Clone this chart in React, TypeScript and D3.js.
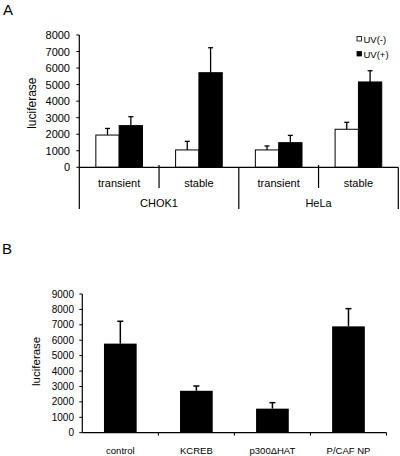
import React from "react";
import * as d3 from "d3";

// Panel A data
const groupsA = ["CHOK1", "HeLa"];
const typesA = ["transient", "stable"];
const seriesA = ["UV(-)", "UV(+)"];
const valuesUVminus = [1950, 1050, 1050, 2300];
const errorsUVminus = [400, 520, 240, 420];
const valuesUVplus = [2520, 5720, 1490, 5160];
const errorsUVplus = [540, 1510, 440, 680];
const ticksA = [0, 1000, 2000, 3000, 4000, 5000, 6000, 7000, 8000];

// Panel B data
const categoriesB = ["control", "KCREB", "p300ΔHAT", "P/CAF NP"];
const valuesB = [5780, 2720, 1560, 6900];
const errorsB = [1450, 310, 390, 1150];
const ticksB = [0, 1000, 2000, 3000, 4000, 5000, 6000, 7000, 8000, 9000];

const FONT = "'Liberation Sans', Arial, sans-serif";

function PanelA() {
  const left = 79.3, right = 398.3, y0 = 167.3, yTop = 35;
  const subcats = groupsA.flatMap((g) => typesA.map((t) => `${g}-${t}`));
  const x = d3.scaleBand().domain(subcats).range([left, right]).paddingInner(0.415).paddingOuter(0.2075);
  const xs = d3.scaleBand().domain(seriesA).range([0, x.bandwidth()]);
  const y = d3.scaleLinear().domain([0, 8000]).range([y0, yTop]);
  const step = x.step();
  const groupW = (right - left) / groupsA.length;
  const vals = [valuesUVminus, valuesUVplus];
  const errs = [errorsUVminus, errorsUVplus];
  return (
    <g>
      <text x={3} y={15} fontSize={15} fontFamily={FONT}>A</text>
      {/* y axis */}
      <line x1={left} x2={left} y1={yTop} y2={209} stroke="#000" strokeWidth={1.2} />
      {ticksA.map((t) => (
        <g key={t}>
          <line x1={left - 3} x2={left} y1={y(t)} y2={y(t)} stroke="#000" />
          <text x={70} y={y(t) + 4} fontSize={11} textAnchor="end" fontFamily={FONT}>{t}</text>
        </g>
      ))}
      <text transform={`translate(36,${(y0 + yTop) / 2 + 2}) rotate(-90)`} fontSize={12} textAnchor="middle" fontFamily={FONT}>luciferase</text>
      {/* bars */}
      {subcats.map((sc, i) =>
        seriesA.map((s, j) => {
          const bx = (x(sc) as number) + (xs(s) as number);
          const bw = xs.bandwidth();
          const v = vals[j][i];
          const e = errs[j][i];
          const cx = bx + bw / 2;
          return (
            <g key={sc + s}>
              <line x1={cx} x2={cx} y1={y(v)} y2={y(v + e)} stroke="#000" strokeWidth={1.3} />
              <line x1={cx - 2.5} x2={cx + 2.5} y1={y(v + e)} y2={y(v + e)} stroke="#000" strokeWidth={1.3} />
              <rect x={bx} y={y(v)} width={bw} height={y0 - y(v)} fill={j === 0 ? "#fff" : "#000"} stroke="#000" strokeWidth={1} />
            </g>
          );
        })
      )}
      {/* x axis */}
      <line x1={left} x2={right} y1={y0} y2={y0} stroke="#000" strokeWidth={1.2} />
      {subcats.map((sc, i) => {
        const cx = (x(sc) as number) + x.bandwidth() / 2;
        const boundary = left + step * (i + 1);
        const isGroupEnd = (i + 1) % typesA.length === 0;
        return (
          <g key={sc}>
            <text x={cx} y={186.5} fontSize={11} textAnchor="middle" fontFamily={FONT}>{typesA[i % typesA.length]}</text>
            <line x1={boundary} x2={boundary} y1={isGroupEnd ? y0 : 165} y2={isGroupEnd ? 209 : 188} stroke="#000" strokeWidth={1.2} />
          </g>
        );
      })}
      {groupsA.map((g, i) => (
        <text key={g} x={left + groupW * (i + 0.5)} y={207} fontSize={11} textAnchor="middle" fontFamily={FONT}>{g}</text>
      ))}
      {/* legend */}
      {seriesA.map((s, j) => (
        <g key={s}>
          <rect x={357} y={36.5 + j * 15} width={4.5} height={4.5} fill={j === 0 ? "#fff" : "#000"} stroke="#000" strokeWidth={0.8} />
          <text x={363.5} y={42.5 + j * 15} fontSize={9.5} fontFamily={FONT}>{s}</text>
        </g>
      ))}
    </g>
  );
}

function PanelB() {
  const left = 82.3, right = 386.5, y0 = 432.7, yTop = 294;
  const x = d3.scaleBand().domain(categoriesB).range([left, right]).paddingInner(0.57).paddingOuter(0.285);
  const y = d3.scaleLinear().domain([0, 9000]).range([y0, yTop]);
  const step = x.step();
  return (
    <g>
      <text x={2} y={254} fontSize={15} fontFamily={FONT}>B</text>
      <line x1={left} x2={left} y1={yTop} y2={y0} stroke="#000" strokeWidth={1.2} />
      {ticksB.map((t) => (
        <g key={t}>
          <line x1={left - 3} x2={left} y1={y(t)} y2={y(t)} stroke="#000" />
          <text x={74} y={y(t) + 3.5} fontSize={10} textAnchor="end" fontFamily={FONT}>{t}</text>
        </g>
      ))}
      <text transform={`translate(40,${(y0 + yTop) / 2 - 2}) rotate(-90)`} fontSize={11.5} textAnchor="middle" fontFamily={FONT}>luciferase</text>
      {categoriesB.map((c, i) => {
        const bx = x(c) as number;
        const bw = x.bandwidth();
        const cx = bx + bw / 2;
        const v = valuesB[i];
        const e = errorsB[i];
        return (
          <g key={c}>
            <line x1={cx} x2={cx} y1={y(v)} y2={y(v + e)} stroke="#000" strokeWidth={1.5} />
            <line x1={cx - 3} x2={cx + 3} y1={y(v + e)} y2={y(v + e)} stroke="#000" strokeWidth={1.5} />
            <rect x={bx} y={y(v)} width={bw} height={y0 - y(v)} fill="#000" />
            <text x={cx} y={454} fontSize={9.5} textAnchor="middle" fontFamily={FONT}>{c}</text>
            <line x1={left + step * (i + 1)} x2={left + step * (i + 1)} y1={y0} y2={y0 + 3} stroke="#000" />
          </g>
        );
      })}
      <line x1={left} x2={right} y1={y0} y2={y0} stroke="#000" strokeWidth={1.2} />
    </g>
  );
}

export default function App() {
  return (
    <svg width={400} height={456} style={{ position: "absolute", left: 0, top: 0, background: "#fff" }}>
      <rect width={400} height={456} fill="#fff" />
      <PanelA />
      <PanelB />
    </svg>
  );
}
